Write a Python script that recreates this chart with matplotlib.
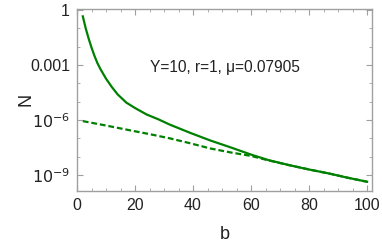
import numpy as np
import matplotlib
matplotlib.use("Agg")
import matplotlib.pyplot as plt
from matplotlib.ticker import FixedLocator, NullFormatter

plt.rcParams['font.family'] = ['Liberation Sans', 'DejaVu Sans']

# values (log-scale N vs b)
b_solid = [2, 3, 4, 5, 6, 7, 8, 10, 12, 14, 17, 20, 24, 28, 32, 39, 46, 53, 60,
           66, 73, 80, 87, 93, 100]
n_solid = [4.5e-1, 1.0e-1, 2.8e-2, 8.9e-3, 3.2e-3, 1.3e-3, 6.3e-4, 1.8e-4, 6.3e-5,
           2.5e-5, 8.9e-6, 4.5e-6, 2.0e-6, 1.1e-6, 5.6e-7, 2.0e-7, 7.6e-8, 3.2e-8,
           1.3e-8, 6.5e-9, 3.5e-9, 2.0e-9, 1.2e-9, 7.3e-10, 4.3e-10]

b_dashed = [2, 10, 18, 25, 32, 39, 46, 53, 60, 66, 73, 80, 87, 93, 100]
n_dashed = [8.7e-7, 5.0e-7, 2.8e-7, 1.7e-7, 1.0e-7, 5.4e-8, 2.8e-8, 1.7e-8, 1.1e-8,
            6.3e-9, 3.5e-9, 2.0e-9, 1.2e-9, 7.3e-10, 4.3e-10]

label = "Y=10, r=1, \u03bc=0.07905"
color = "#008000"
frame = "#a0a0a0"

fig = plt.figure(figsize=(3.82, 2.45), dpi=100)
ax = fig.add_axes([0.2016, 0.222, 0.7722, 0.741])

ax.plot(b_solid, n_solid, color=color, lw=1.6)
ax.plot(b_dashed, n_dashed, color=color, lw=1.6, ls=(0, (2.6, 1.3)))

ax.set_yscale("log")
ax.set_xlim(0, 101.7)
ax.set_ylim(10**-9.85, 10**0.05)

ax.set_xticks([0, 20, 40, 60, 80, 100])
ax.xaxis.set_minor_locator(FixedLocator(np.arange(0, 101, 5)))
ax.yaxis.set_major_locator(FixedLocator([1, 1e-3, 1e-6, 1e-9]))
ax.yaxis.set_minor_locator(FixedLocator([10.0**-k for k in range(0, 10)]))
ax.yaxis.set_minor_formatter(NullFormatter())
ax.set_yticklabels(["1", "0.001", r"$10^{-6}$", r"$10^{-9}$"])

for s in ax.spines.values():
    s.set_color(frame)
    s.set_linewidth(1.0)

ax.tick_params(which="both", direction="in", top=True, right=True, color=frame,
               labelsize=11.5, labelcolor="#222222")
ax.tick_params(which="major", length=4, width=0.8, pad=5)
ax.tick_params(which="minor", length=2.2, width=0.6)

ax.set_xlabel("b", fontsize=13, color="#222222", labelpad=10)
ax.set_ylabel("N", fontsize=13, color="#222222", labelpad=-3)

ax.text(51, 10**-3.16, label, fontsize=11.2, ha="center", va="center", color="#222222")

fig.savefig("out.png", dpi=100)
